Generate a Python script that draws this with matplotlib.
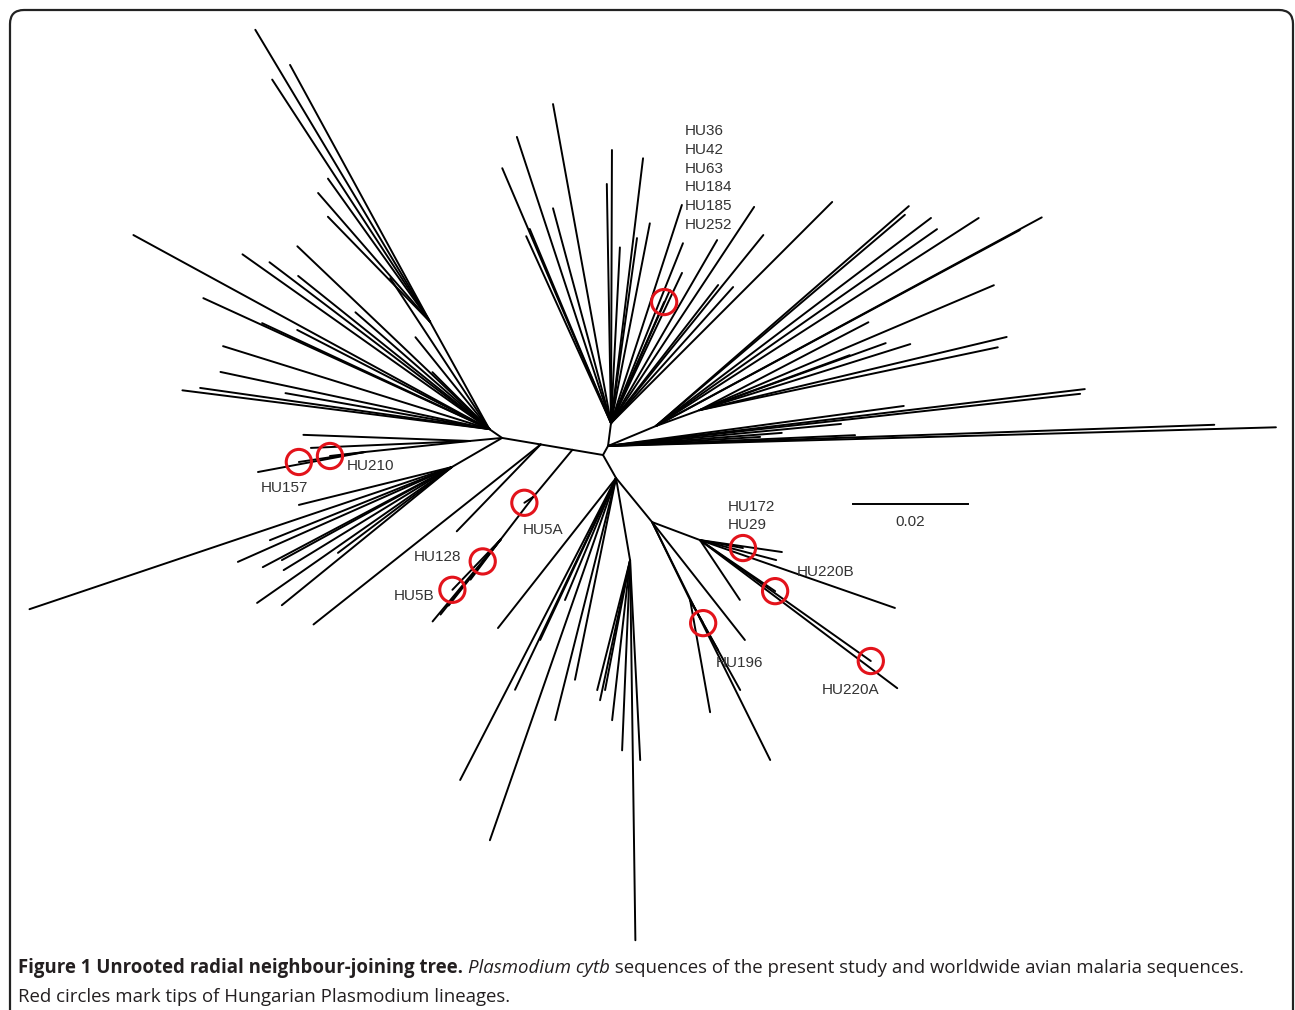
import numpy as np
import matplotlib.pyplot as plt
from matplotlib.collections import LineCollection
from matplotlib.patches import FancyBboxPatch

# Unrooted radial NJ tree of Plasmodium cytb lineages.
# Branch lengths in 0.001 substitutions/site, angles in degrees (ccw from east).

# ---------------------------------------------------------------------------
# internal nodes (listed parent-first), "B" is the drawing origin
# ---------------------------------------------------------------------------
node_names   = ["M", "N", "A", "U", "U1", "W", "H", "L2", "M1", "M2",
                "R0", "T", "R1", "R2", "D", "D1", "E", "E1", "E2"]
node_parents = ["B", "M", "N", "A", "U", "A", "W", "A", "M", "M1",
                "B", "R0", "R0", "R1", "B", "D", "D", "E", "E"]
node_angles  = [170.4, 170.4, 170.4, 145.3, 118.9, 185.4, 186.0, 210.1, 230.3, 232.5,
                60.9, 82.6, 22.6, 20.0, 299.5, 279.7, 309.3, 339.4, 296.0]
node_lengths = [5.4, 5.6, 6.8, 2.7, 21.3, 5.6, 18.4, 10.1, 10.6, 9.4,
                1.8, 4.0, 9.0, 8.1, 4.6, 14.5, 9.9, 8.9, 15.1]

# ---------------------------------------------------------------------------
# terminal branches, grouped by the node they hang from
# ---------------------------------------------------------------------------
U_ang = [136.4, 144.7, 142.8, 141.3, 138.9, 123.3, 151.4, 155.4, 155.0, 152.7,
         162.7, 128.8, 135.0, 172.8, 171.9, 170.0, 168.0]
U_len = [46.1, 52.6, 48.0, 42.6, 30.9, 31.4, 70.5, 54.7, 43.6, 37.6,
         48.5, 20.5, 14.0, 53.8, 50.8, 36.0, 47.8]
U1_ang = [120.9, 118.6, 123.1, 125.5, 131.0, 134.2]
U1_len = [59.2, 50.9, 50.3, 30.6, 29.7, 25.5]
W_ang = [177.9, 182.5]
W_len = [29.0, 27.7]
H_ang = [190.6]
H_len = [18.9]
L2_ang = [198.6, 203.9, 207.9, 208.7, 211.5, 214.9, 219.1, 193.9, 217.0, 201.9]
L2_len = [77.5, 40.7, 37.2, 33.7, 34.3, 41.3, 38.1, 27.4, 24.8, 34.1]
N_ang = [218.4, 226.0]
N_len = [50.4, 21.0]
M2_ang = [230.3, 231.3, 231.8, 233.1]
M2_len = [18.5, 16.7, 14.6, 8.7]
T_ang = [100.3, 108.2, 113.1, 89.8, 83.1, 91.0, 105.1, 112.7, 79.0, 82.0, 87.1,
         114.4, 72.0, 68.2, 64.7, 59.9, 56.5, 51.0, 45.0, 48.1, 52.2, 66.1]
T_len = [56.4, 52.4, 48.2, 47.5, 46.4, 41.6, 38.7, 36.6, 35.4, 32.5, 30.6,
         35.7, 39.9, 33.7, 28.9, 36.8, 45.1, 42.1, 54.4, 31.8, 30.4, 25.3]
R1_ang = [41.0, 40.3, 37.1, 35.0, 32.8, 28.4, 28.3]
R1_len = [58.3, 56.8, 60.0, 59.7, 66.8, 76.3, 71.9]
R2_ang = [27.5, 19.8, 17.4, 13.4, 11.9, 20.1, 23.0]
R2_len = [33.1, 34.4, 38.4, 54.9, 53.0, 27.8, 55.6]
R0_ang = [6.8, 6.3, 7.7, 5.4, 1.6, 2.0, 2.5, 4.3, 3.4]
R0_len = [83.5, 82.6, 51.9, 40.7, 116.2, 105.5, 43.0, 30.3, 26.5]
D_ang = [250.8, 242.7, 231.8, 244.5, 255.9, 258.5, 244.9, 247.3]
D_len = [66.7, 59.1, 33.2, 40.8, 43.4, 35.8, 31.1, 23.0]
D1_ang = [270.8, 255.8, 257.9, 259.1, 263.6, 267.6, 272.9]
D1_len = [66.1, 23.3, 24.9, 23.0, 28.0, 33.1, 34.8]
E_ang = [296.4, 308.2]
E_len = [46.2, 26.1]
E1_ang = [351.7, 345.3, 340.8, 323.1, 303.7]
E1_len = [14.4, 13.7, 35.9, 42.9, 12.5]
E2_ang = [299.1, 280.1, 299.2]
E2_len = [17.9, 19.8, 10.0]

# Hungarian lineages (red circles)
hu_labels = ["HU157", "HU210", "HU5A", "HU128", "HU5B",
             "HU36\nHU42\nHU63\nHU184\nHU185\nHU252",
             "HU172\nHU29", "HU220B", "HU196", "HU220A"]
hu_parent = ["H", "H", "M1", "M2", "M2", "T", "E1", "E1", "E2", "E1"]
hu_ang = [188.6, 186.5, 213.7, 230.7, 226.2, 66.3, 349.5, 325.8, 299.5, 324.7]
hu_len = [11.6, 6.1, 1.9, 4.9, 12.1, 23.0, 7.6, 15.8, 4.6, 36.4]

scale_len = 20.0  # 0.02 substitutions/site

tip_groups = {
    "U": (U_ang, U_len), "U1": (U1_ang, U1_len), "W": (W_ang, W_len),
    "H": (H_ang, H_len), "L2": (L2_ang, L2_len), "N": (N_ang, N_len),
    "M2": (M2_ang, M2_len), "T": (T_ang, T_len), "R1": (R1_ang, R1_len),
    "R2": (R2_ang, R2_len), "R0": (R0_ang, R0_len), "D": (D_ang, D_len),
    "D1": (D1_ang, D1_len), "E": (E_ang, E_len), "E1": (E1_ang, E1_len),
    "E2": (E2_ang, E2_len),
}


def step(p, ang, length):
    a = np.deg2rad(ang)
    return (p[0] + length * np.cos(a), p[1] + length * np.sin(a))


# ---------------------------------------------------------------------------
# layout
# ---------------------------------------------------------------------------
pos = {"B": (0.0, 0.0)}
segs = []
for name, par, ang, ln in zip(node_names, node_parents, node_angles, node_lengths):
    pos[name] = step(pos[par], ang, ln)
    segs.append([pos[par], pos[name]])

for par, (angs, lens) in tip_groups.items():
    for ang, ln in zip(angs, lens):
        segs.append([pos[par], step(pos[par], ang, ln)])

hu_pts = []
for par, ang, ln in zip(hu_parent, hu_ang, hu_len):
    p = step(pos[par], ang, ln)
    segs.append([pos[par], p])
    hu_pts.append(p)
hu_pts = np.array(hu_pts)

W_PX, H_PX = 1295, 1010
PX = 5.75                 # pixels per 0.001 subst/site
ORIG = (603, 455)         # pixel position of node B

fig = plt.figure(figsize=(W_PX / 100, H_PX / 100), dpi=100)
ax = fig.add_axes([0, 0, 1, 1])
ax.set_xlim(-ORIG[0] / PX, (W_PX - ORIG[0]) / PX)
ax.set_ylim(-(H_PX - ORIG[1]) / PX, ORIG[1] / PX)
ax.axis("off")

ax.add_collection(LineCollection(segs, colors="black", linewidths=1.4,
                                 capstyle="round"))
ax.scatter(hu_pts[:, 0], hu_pts[:, 1], s=330, facecolors="none",
           edgecolors="#e3131b", linewidths=2.2, zorder=3)

# label offsets in pixels (dx, dy) and alignment
lab_off = [(-14, -26, "center"), (17, -10, "left"), (-2, -27, "left"),
           (-21, 4, "right"), (-18, -6, "right"), (21, 124, "left"),
           (-15, 32, "left"), (22, 19, "left"), (13, -40, "left"),
           (-49, -29, "left")]
for lab, p, (dx, dy, ha) in zip(hu_labels, hu_pts, lab_off):
    ax.annotate(lab, p, xytext=(dx, dy), textcoords="offset pixels",
                ha=ha, va="center", fontsize=11, family="Liberation Sans",
                color="#333333", linespacing=1.43)

# scale bar
sb_x, sb_y = (853 - ORIG[0]) / PX, -(504 - ORIG[1]) / PX
ax.plot([sb_x, sb_x + scale_len], [sb_y, sb_y], color="black", lw=1.4)
ax.text(sb_x + scale_len / 2, sb_y - 1.9, "0.02", ha="center", va="top",
        fontsize=11, family="Liberation Sans", color="#333333")

# frame + caption in pixel coordinates
fr = fig.add_axes([0, 0, 1, 1], zorder=-1)
fr.set_xlim(0, W_PX)
fr.set_ylim(H_PX, 0)
fr.axis("off")
fr.add_patch(FancyBboxPatch((10, 10), 1283, 1040,
                            boxstyle="round,pad=0,rounding_size=14",
                            fc="white", ec="#222222", lw=1.6))

cap_font = "Open Sans"
cap_size = 13.4
parts = [("Figure 1 Unrooted radial neighbour-joining tree. ", dict(weight="bold")),
         ("Plasmodium cytb", dict(style="italic")),
         (" sequences of the present study and worldwide avian malaria sequences.", {})]
fig.canvas.draw()
rend = fig.canvas.get_renderer()
x = 18
for txt, kw in parts:
    t = fr.text(x, 968, txt, ha="left", va="center", fontsize=cap_size,
                family=cap_font, color="#231f20", **kw)
    x += t.get_window_extent(rend).width
fr.text(18, 997, "Red circles mark tips of Hungarian Plasmodium lineages.",
        ha="left", va="center", fontsize=cap_size, family=cap_font,
        color="#231f20")

fig.savefig("out.png", dpi=100, facecolor="white")
